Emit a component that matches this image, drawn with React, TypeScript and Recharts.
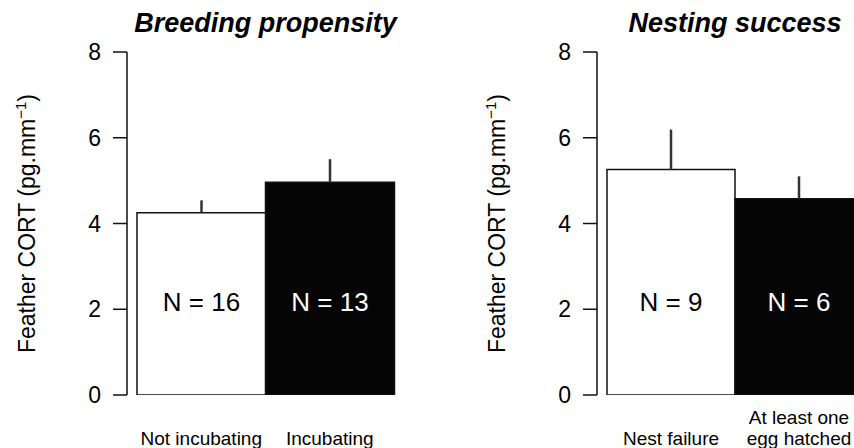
import React from "react"
import { BarChart, Bar, XAxis, YAxis, ErrorBar, Cell, LabelList, Label } from "recharts"

// panel 1: breeding propensity
const breedingGroups = ["Not incubating", "Incubating"]
const breedingMeans = [4.25, 4.96]
const breedingSE = [0.29, 0.54]
const breedingN = [16, 13]

// panel 2: nesting success
const nestingGroups = ["Nest failure", "At least one\negg hatched"]
const nestingMeans = [5.26, 4.58]
const nestingSE = [0.93, 0.52]
const nestingN = [9, 6]

const yTicks = [0, 2, 4, 6, 8]
const barFills = ["#ffffff", "#050505"]
const nTextFills = ["#000000", "#ffffff"]

const FONT = "'Liberation Sans', Arial, Helvetica, sans-serif"

function buildRows(groups: string[], means: number[], se: number[], n: number[]) {
  return groups.map((g, i) => ({ group: g, mean: means[i], err: [0, se[i]], n: n[i] }))
}

const XTick = (props: any) => {
  const { x, y, payload } = props
  const lines = String(payload.value).split("\n")
  return (
    <g>
      {lines.map((line, i) => (
        <text
          key={i}
          x={x}
          y={y + 50 - (lines.length - 1 - i) * 21}
          textAnchor="middle"
          fontSize={19}
          fontFamily={FONT}
          fill="#000"
        >
          {line}
        </text>
      ))}
    </g>
  )
}

const YLabel = (props: any) => {
  const vb = props.viewBox || {}
  const x = vb.x + vb.width - 92
  const y = vb.y + vb.height / 2
  return (
    <text
      x={x}
      y={y}
      transform={`rotate(-90, ${x}, ${y})`}
      textAnchor="middle"
      fontSize={23}
      fontFamily={FONT}
      fill="#000"
    >
      Feather CORT (pg.mm
      <tspan dy={-9} fontSize={15}>−1</tspan>
      <tspan dy={9}>)</tspan>
    </text>
  )
}

// N labels sit at the height of value 2 inside each bar
const NLabel = (props: any) => {
  const { x, y, width, height, value, index, means } = props
  const mean = means[index]
  const bottom = y + height
  const yAt2 = bottom - (height * 2) / mean
  return (
    <text
      x={x + width / 2}
      y={yAt2 + 2}
      textAnchor="middle"
      fontSize={26}
      fontFamily={FONT}
      fill={nTextFills[index] || "#000"}
    >
      {`N = ${value}`}
    </text>
  )
}

interface PanelProps {
  title: string
  rows: any[]
  means: number[]
  width: number
  axisWidth: number
  rightMargin: number
  left: number
}

function Panel({ title, rows, means, width, axisWidth, rightMargin, left }: PanelProps) {
  const plotLeft = axisWidth + 10
  const plotRight = width - rightMargin
  return (
    <div style={{ position: "absolute", left, top: 0, width, height: 448 }}>
      <div
        style={{
          position: "absolute",
          left: plotLeft - 40,
          width: plotRight - plotLeft + 80,
          top: 8,
          textAlign: "center",
          fontFamily: FONT,
          fontWeight: "bold",
          fontStyle: "italic",
          fontSize: 27,
          lineHeight: "30px",
          color: "#000",
          whiteSpace: "nowrap",
        }}
      >
        {title}
      </div>
      <BarChart
        width={width}
        height={448}
        data={rows}
        margin={{ top: 52, right: rightMargin, bottom: 52, left: 0 }}
        barCategoryGap={0}
        barGap={0}
      >
        <XAxis
          dataKey="group"
          axisLine={false}
          tickLine={false}
          tickSize={0}
          tickMargin={0}
          height={1}
          padding={{ left: 10, right: 0 }}
          tick={<XTick />}
          interval={0}
        />
        <YAxis
          width={axisWidth}
          domain={[0, 8]}
          ticks={yTicks}
          allowDataOverflow
          tickSize={14}
          tickMargin={12}
          axisLine={{ stroke: "#111", strokeWidth: 1.5 }}
          tickLine={{ stroke: "#111", strokeWidth: 1.5 }}
          tick={{ fontSize: 23, fill: "#000", fontFamily: FONT }}
        >
          <Label content={<YLabel />} />
        </YAxis>
        <Bar dataKey="mean" stroke="#111" strokeWidth={1.5} isAnimationActive={false}>
          {rows.map((_, i) => (
            <Cell key={i} fill={barFills[i]} />
          ))}
          <ErrorBar dataKey="err" width={0} stroke="#333" strokeWidth={2.5} direction="y" />
          <LabelList dataKey="n" content={(p: any) => <NLabel {...p} means={means} />} />
        </Bar>
      </BarChart>
    </div>
  )
}

export default function App() {
  const breedingRows = buildRows(breedingGroups, breedingMeans, breedingSE, breedingN)
  const nestingRows = buildRows(nestingGroups, nestingMeans, nestingSE, nestingN)
  return (
    <div
      style={{
        position: "absolute",
        left: 0,
        top: 0,
        width: 854,
        height: 448,
        overflow: "hidden",
        background: "#fff",
      }}
    >
      <Panel title="Breeding propensity" rows={breedingRows} means={breedingMeans} width={430} axisWidth={127} rightMargin={36} left={0} />
      <Panel title="Nesting success" rows={nestingRows} means={nestingMeans} width={440} axisWidth={167} rightMargin={7} left={430} />
    </div>
  )
}
